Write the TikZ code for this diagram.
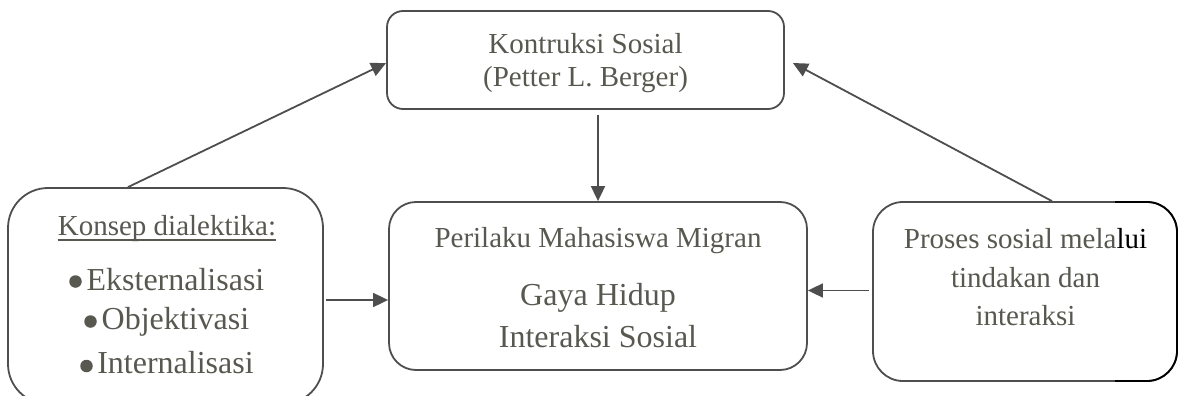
\documentclass[tikz,border=0pt]{standalone}
\usepackage{fontspec}
\setmainfont{Liberation Serif}
\usetikzlibrary{arrows.meta}
\definecolor{linec}{RGB}{78,78,78}
\definecolor{textc}{RGB}{88,88,80}
\begin{document}
\begin{tikzpicture}[x=1pt,y=1pt,
  boxst/.style={draw=linec, line width=1.8pt, rectangle, inner sep=0pt},
  txt/.style={anchor=base, inner sep=0pt, text=textc, font=\fontsize{29}{34}\selectfont},
  bigtxt/.style={txt, font=\fontsize{32}{38}\selectfont},
  bul/.style={circle, fill=textc, inner sep=0pt, minimum size=12.5pt},
  conn/.style={draw=linec, line width=1.8pt, -{Triangle[length=15pt,width=14pt]}}]
\useasboundingbox (0,0) rectangle (1180,-396);
% boxes
\node[boxst, rounded corners=16pt, minimum width=397pt, minimum height=98pt] (tbox) at (585.5,-60) {};
\node[boxst, rounded corners=27pt, minimum width=418pt, minimum height=168pt] (mbox) at (598,-286) {};
\node[boxst, rounded corners=40pt, minimum width=315pt, minimum height=216pt] (lbox) at (165.5,-296) {};
\node[boxst, rounded corners=30pt, minimum width=304pt, minimum height=179pt] (rbox) at (1025,-291.5) {};
\draw[black, line width=1.8pt, rounded corners=30pt] (1115,-202) -- (1177,-202) -- (1177,-381) -- (1115,-381);
% texts
\node[txt] (t1) at (585.5,-53) {Kontruksi Sosial};
\node[txt] (t2) at (585.5,-86) {(Petter L. Berger)};
\node[txt] (m1) at (598,-247) {Perilaku Mahasiswa Migran};
\node[bigtxt] (m2) at (598,-305) {Gaya Hidup};
\node[bigtxt] (m3) at (598,-347) {Interaksi Sosial};
\node[txt] (l1) at (167,-235) {Konsep dialektika:};
\draw[textc, line width=1.3pt] ([yshift=-5pt]l1.base west) -- ([yshift=-5pt]l1.base east);
\node[bigtxt] (l2) at (175.5,-290) {Eksternalisasi};
\node[bigtxt] (l3) at (175.5,-329) {Objektivasi};
\node[bigtxt] (l4) at (175.5,-373) {Internalisasi};
\node[bul] (b2) at (75.5,-281.5) {};
\node[bul] (b3) at (90.5,-321.5) {};
\node[bul] (b4) at (86.5,-366) {};
\node[txt] (r1) at (1025.5,-248) {Proses sosial mela{\color{black}lui}};
\node[txt] (r2) at (1025.5,-287) {tindakan dan};
\node[txt] (r3) at (1025.5,-325) {interaksi};
% connectors
\draw[conn] ([xshift=-37.5pt]lbox.north) -- ([yshift=-3pt]tbox.west);
\draw[conn] ([xshift=27pt]rbox.north) -- ([xshift=8pt,yshift=-3pt]tbox.east);
\draw[conn] ([yshift=-5pt]tbox.south -| mbox.north) -- (mbox.north);
\draw[conn] ([yshift=-14pt,xshift=2pt]mbox.west -| lbox.east) -- ([yshift=-14pt]mbox.west);
\draw[conn] ([yshift=-4.5pt,xshift=-3pt]mbox.east -| rbox.west) -- ([yshift=-4.5pt]mbox.east);
\end{tikzpicture}
\end{document}
